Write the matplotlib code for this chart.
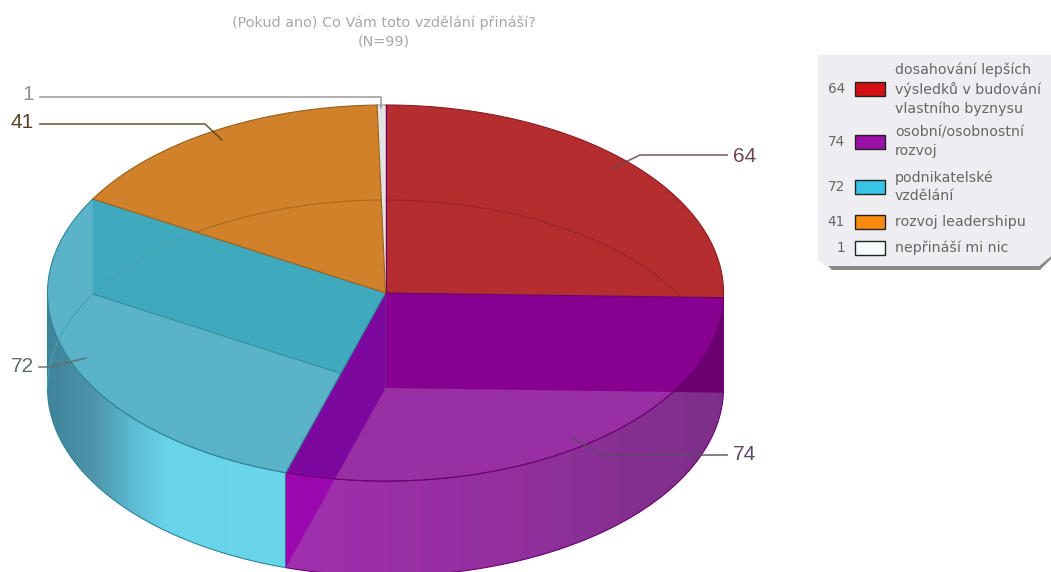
import numpy as np
import matplotlib
matplotlib.use("Agg")
import matplotlib.pyplot as plt
from matplotlib.colors import LinearSegmentedColormap
from matplotlib.patches import Polygon

plt.rcParams['font.family'] = ['Liberation Sans', 'DejaVu Sans']

# -----------------------------
# Data
# -----------------------------
title_lines = "(Pokud ano) Co Vám toto vzdělání přináší?\n(N=99)"
values = [64, 74, 72, 41, 1]
legend_labels = [
    "dosahování lepších\nvýsledků v budování\nvlastního byznysu",
    "osobní/osobnostní\nrozvoj",
    "podnikatelské\nvzdělání",
    "rozvoj leadershipu",
    "nepřináší mi nic",
]

# -----------------------------
# Style and layout (pixels)
# -----------------------------
swatch_colors = ["#d40f14", "#9a0fa6", "#38c4e4", "#f98a10", "#f4fbfd"]
top_colors = ["#b52d2f", "#982fa3", "#5ab3c8", "#d0812a", "#e2e2e2"]
edge_colors = ["#8a1c22", "#6a0070", "#2f8496", "#96601e", "#9a9a9a"]
base_colors = ["#96262a", "#7a0a86", "#4ba0b5", "#a8691e", "#9a9a9a"]
label_colors = ["#6e4650", "#5e4a68", "#606c70", "#5a4428", "#909090"]
small_font = ['DejaVu Sans']

cx, cy, rx, ry, depth = 385.5, 293.0, 338.0, 188.0, 95.0

legend_rows = [89, 142, 187, 222, 248]
leaders = [
    [(613, 168), (640, 155), (727, 155)],
    [(572, 438), (603, 455), (727, 455)],
    [(86, 358), (50, 367), (39, 367)],
    [(222, 140), (205, 124), (40, 124)],
    [(381, 108), (381, 97), (40, 97)],
]
value_labels = [(733, 156, 'left'), (733, 454, 'left'), (34, 366, 'right'),
                (34, 123, 'right'), (34, 95, 'right')]

side_ramps = {
    1: [(0, "#a02fae"), (0.5, "#93309f"), (1, "#7c2f88")],
    2: [(0, "#3f8499"), (0.2, "#4f96ab"), (0.36, "#5cbcd4"), (0.5, "#68d4ea"), (1, "#68d6ec")],
}


# -----------------------------
# Geometry functions
# -----------------------------
def rim(theta_deg, dy=0.0):
    # angle runs clockwise from 12 o'clock, y axis points down
    t = np.deg2rad(theta_deg)
    return np.column_stack([cx + rx * np.sin(t), cy - ry * np.cos(t) + dy])


def arc(start, stop, dy=0.0, n=120):
    return rim(np.linspace(start, stop, n), dy)


def outer_wall(start, stop):
    return np.vstack([arc(start, stop), arc(start, stop, depth)[::-1]])


def inner_wall(theta):
    p = rim(theta)[0]
    return np.array([[cx, cy], p, p + [0, depth], [cx, cy + depth]])


fig = plt.figure(figsize=(10.51, 5.72), dpi=100)
ax = fig.add_axes([0, 0, 1, 1])
ax.set_xlim(0, 1051)
ax.set_ylim(572, 0)
ax.axis('off')

edges = np.concatenate([[0], np.cumsum(values)]) / np.sum(values) * 360

# -----------------------------
# Front side of the cylinder
# -----------------------------
for i, ramp in side_ramps.items():
    start, stop = max(edges[i], 90), min(edges[i + 1], 270)
    shape = Polygon(outer_wall(start, stop), closed=True, fc='none', ec=edge_colors[i], lw=0.8, zorder=2)
    ax.add_patch(shape)
    xs = rim(np.array([start, stop]))[:, 0]
    grad = np.linspace(0, 1, 256)[None, :]
    if xs[0] > xs[1]:
        xs = xs[::-1]
    cmap = LinearSegmentedColormap.from_list("side%d" % i, ramp)
    im = ax.imshow(grad, cmap=cmap, extent=(xs[0], xs[1], 590, 280), aspect='auto', zorder=1)
    im.set_clip_path(shape)

ax.set_xlim(0, 1051)
ax.set_ylim(572, 0)

# inner walls where they hang below the top face
ax.add_patch(Polygon(inner_wall(edges[1]), closed=True, fc="#6a0070", ec='none', zorder=3))
ax.add_patch(Polygon(inner_wall(edges[2]), closed=True, fc="#9c08b0", ec='none', zorder=3))

# -----------------------------
# Top face
# -----------------------------
for i in range(len(values)):
    pts = np.vstack([[cx, cy], arc(edges[i], edges[i + 1])])
    ax.add_patch(Polygon(pts, closed=True, fc=top_colors[i], ec='none', zorder=4))

outline = Polygon(arc(0, 360), closed=True, fc='none', ec='none', zorder=4)
ax.add_patch(outline)

# inner walls seen through the top face
for theta, color, z in [(edges[3], "#3faabd", 5), (edges[1], "#880090", 6), (edges[2], "#7d08a0", 6)]:
    wall = Polygon(inner_wall(theta), closed=True, fc=color, ec='none', zorder=z)
    ax.add_patch(wall)
    wall.set_clip_path(outline)

# slice borders on top of the walls, each in its own slice colour
for i in range(len(values)):
    ax.plot(*arc(edges[i], edges[i + 1]).T, color=edge_colors[i], lw=0.8, zorder=7)
    pts = np.vstack([rim(edges[i]), [[cx, cy]]])
    ax.plot(pts[:, 0], pts[:, 1], color=edge_colors[max(i, 1) if i < 4 else 3], lw=0.8, zorder=7)

# bottom edge of the teal wall
wall_pts = inner_wall(edges[3])
ax.plot(wall_pts[2:, 0], wall_pts[2:, 1], color="#2f8496", lw=0.6, zorder=5)

# far half of the base ellipse, visible only inside the slices it crosses
base = arc(-90, 90, depth, n=720)
base_angle = np.rad2deg(np.arctan2((base[:, 0] - cx) / rx, (cy - base[:, 1]) / ry)) % 360
for i in [0, 2, 3]:
    mask = (base_angle >= edges[i]) & (base_angle < edges[i + 1])
    pts = base.copy()
    pts[~mask] = np.nan
    ax.plot(pts[:, 0], pts[:, 1], color=base_colors[i], lw=0.8, zorder=5)

# -----------------------------
# Leader lines and value labels
# -----------------------------
for i, path in enumerate(leaders):
    path = np.array(path)
    ax.plot(path[:, 0], path[:, 1], color=label_colors[i], lw=1.2, alpha=0.85, zorder=8)
    x, y, ha = value_labels[i]
    ax.text(x, y, str(values[i]), color=label_colors[i], fontsize=15, ha=ha, va='center', zorder=9)

ax.text(384, 32, title_lines, color="#a8a8a8", fontsize=10.4, ha='center', va='center',
        linespacing=1.35, family=small_font)

# -----------------------------
# Legend panel
# -----------------------------
panel = [(818, 55), (1051, 55), (1051, 256), (1039, 266), (825, 266), (818, 260)]
shadow = [(828, 266), (1039, 266), (1051, 256), (1051, 259), (1040, 270), (832, 270)]
ax.add_patch(Polygon(shadow, closed=True, fc="#8a8a8a", ec='none', zorder=1))
ax.add_patch(Polygon(panel, closed=True, fc="#eeeef2", ec='none', zorder=2))

for i, y in enumerate(legend_rows):
    ax.text(845, y, str(values[i]), color="#666666", fontsize=9.8, ha='right', va='center', zorder=3,
            family=small_font)
    ax.add_patch(Polygon([(855, y - 7), (885, y - 7), (885, y + 7), (855, y + 7)], closed=True,
                         fc=swatch_colors[i], ec="#222222", lw=1.0, zorder=3))
    ax.text(895, y, legend_labels[i], color="#666666", fontsize=10.2, ha='left', va='center',
            linespacing=1.4, zorder=3, family=small_font)

fig.savefig("out.png", dpi=100)
